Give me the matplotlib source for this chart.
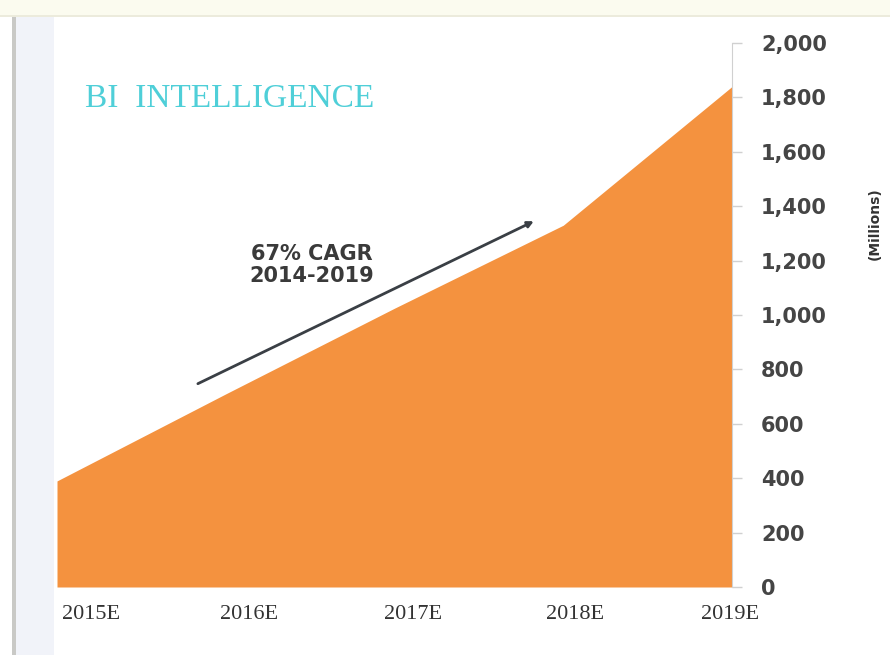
import numpy as np
import matplotlib.pyplot as plt
from matplotlib.patches import Rectangle

# values (millions)
years = ["2015E", "2016E", "2017E", "2018E", "2019E"]
values = [390, 710, 1025, 1330, 1840]
y_ticks = [0, 200, 400, 600, 800, 1000, 1200, 1400, 1600, 1800, 2000]

ORANGE = "#f4923f"
# label positions are a bit off the data points in the original
label_pos = [0.2, 1.14, 2.11, 3.07, 3.99]

fig = plt.figure(figsize=(8.9, 6.55), dpi=100)
fig.patch.set_facecolor("white")

# frame decorations
fig.patches.append(Rectangle((0, 1 - 15 / 655), 1, 15 / 655, transform=fig.transFigure,
                             facecolor="#fbfbef", edgecolor="none", zorder=-5))
fig.patches.append(Rectangle((0, 1 - 17 / 655), 1, 2 / 655, transform=fig.transFigure,
                             facecolor="#ecebdc", edgecolor="none", zorder=-5))
fig.patches.append(Rectangle((12 / 890, 0), 4 / 890, 1 - 17 / 655, transform=fig.transFigure,
                             facecolor="#c9c9c6", edgecolor="none", zorder=-5))
fig.patches.append(Rectangle((16 / 890, 0), 38 / 890, 1 - 17 / 655, transform=fig.transFigure,
                             facecolor="#f1f3f9", edgecolor="none", zorder=-5))

ax = fig.add_axes([57 / 890, 1 - 587 / 655, (732 - 57) / 890, (587 - 43) / 655])
ax.set_facecolor("white")

x = np.arange(len(years))
ax.fill_between(x, 0, values, color=ORANGE, linewidth=0)

ax.set_xlim(0, len(years) - 1)
ax.set_ylim(0, 2000)

ax.yaxis.tick_right()
ax.set_yticks(y_ticks)
ax.set_yticklabels([f"{v:,}" for v in y_ticks], fontsize=15, fontweight="bold", color="#454545")
ax.tick_params(axis="y", direction="out", length=7, width=1, color="#d0d0d0", pad=14)

ax.set_xticks(label_pos)
ax.set_xticklabels(years, fontsize=16, family="Liberation Serif", color="#333333")
ax.tick_params(axis="x", length=0, pad=13)

for s in ["top", "left", "bottom"]:
    ax.spines[s].set_visible(False)
ax.spines["right"].set_color("#d0d0d0")

# CAGR arrow
ax.annotate("", xy=(2.84, 1349), xytext=(0.82, 743),
            arrowprops=dict(arrowstyle="-|>,head_length=0.35,head_width=0.18",
                            color="#3a3f45", lw=2))
ax.text(1.51, 1184, "67% CAGR\n2014-2019", ha="center", va="center",
        fontsize=15, fontweight="bold", color="#3a3a3a", linespacing=1.1)

fig.text(85 / 890, 1 - 99 / 655, "BI  INTELLIGENCE", family="Liberation Serif",
         fontsize=24, color="#4fcfd8", ha="left", va="center")
fig.text(875 / 890, 1 - 224 / 655, "(Millions)", rotation=90, fontsize=10,
         fontweight="bold", color="#333333", ha="center", va="center")

fig.savefig("out.png", dpi=100)
